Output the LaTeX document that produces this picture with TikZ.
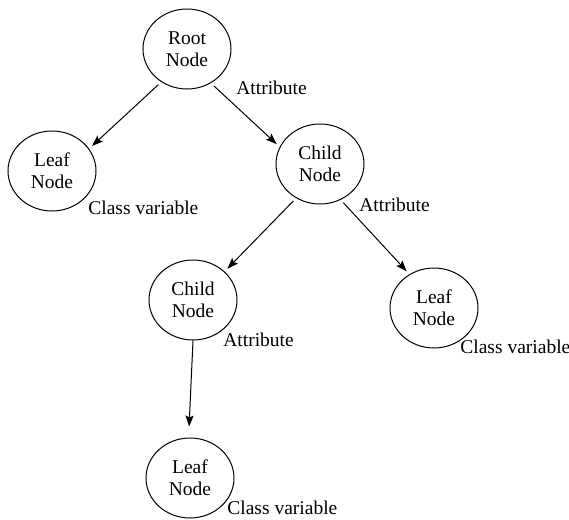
\documentclass[tikz,border=0pt]{standalone}
\usepackage{fontspec}
\setmainfont{Liberation Serif}
\usepackage{tikz}
\usetikzlibrary{shapes.geometric,arrows.meta}
\tikzset{
  treenode/.style={draw=black, ellipse, line width=0.5pt, minimum width=44pt, minimum height=40pt, inner sep=0pt, align=center, font=\fontsize{9.75}{11}\selectfont},
  arrow/.style={-{Stealth[length=5.5pt, width=4pt, inset=1pt]}, draw=black, line width=0.5pt, shorten <=2pt, shorten >=2pt},
  tag/.style={black, anchor=base west, inner sep=0pt, font=\fontsize{9.75}{11}\selectfont}
}
\begin{document}
\begin{tikzpicture}[x=0.5pt, y=-0.5pt]
  \useasboundingbox (0,0) rectangle (569,520);
  \node[treenode] (root) at (187,49) {Root\\Node};
  \node[treenode] (leafA) at (52,171) {Leaf\\Node};
  \node[treenode] (childA) at (320,164) {Child\\Node};
  \node[treenode] (childB) at (193,300) {Child\\Node};
  \node[treenode] (leafB) at (434,308) {Leaf\\Node};
  \node[treenode] (leafC) at (190,478) {Leaf\\Node};
  \draw[arrow] (root.232) -- (leafA.31);
  \draw[arrow] (root.-55) -- (childA.157);
  \draw[arrow] (childA.235) -- (childB.42);
  \draw[arrow] (childA.-60) -- (leafB.126);
  \draw[arrow, shorten <=0pt, shorten >=5.5pt] (childB.-90) -- (leafC.92);
  \node[tag] (attrA) at (236,94) {Attribute};
  \node[tag] (classA) at (88,214) {Class variable};
  \node[tag] (attrB) at (359,211) {Attribute};
  \node[tag] (attrC) at (223,346) {Attribute};
  \node[tag] (classB) at (460,353) {Class variable};
  \node[tag] (classC) at (227,514) {Class variable};
\end{tikzpicture}
\end{document}
